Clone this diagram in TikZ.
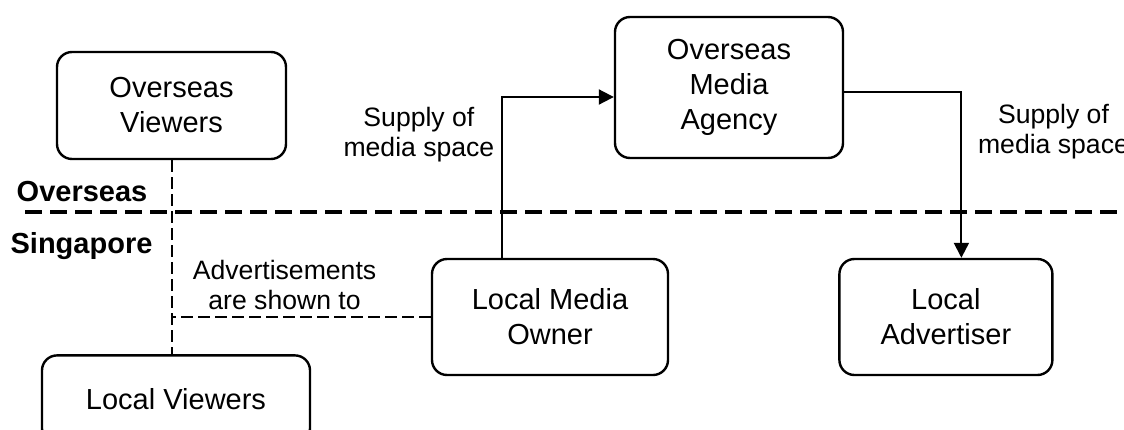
\documentclass[tikz,border=0pt]{standalone}
\usepackage{fontspec}
\setmainfont{Liberation Sans}
\usetikzlibrary{positioning,arrows.meta}

\begin{document}
\begin{tikzpicture}[x=0.5pt, y=-0.5pt, line width=1pt,
    >={Triangle[length=7.5pt,width=7.5pt]},
    entity/.style={draw, line width=1.2pt, rounded corners=7.5pt, align=center,
        font=\fontsize{14.5}{17.5}\selectfont},
    note/.style={align=center, font=\fontsize{13.3}{15}\selectfont},
    region/.style={anchor=base, font=\fontsize{14.5}{17}\selectfont\bfseries},
    dashline/.style={dash pattern=on 6pt off 2.5pt}]%
    \useasboundingbox (0,0) rectangle (1124,429);
    \clip (0,0) rectangle (1124,429);
    \node (1) [entity, minimum width=114.5pt, minimum height=53.5pt] at (171.5,105.5) {Overseas\\Viewers};
    \node (2) [entity, minimum width=114pt, minimum height=70.5pt] at (729,87.5) {Overseas\\Media\\Agency};
    \node (3) [entity, minimum width=118pt, minimum height=58pt] at (550,317) {Local Media\\Owner};
    \node (4) [entity, minimum width=106.5pt, minimum height=58pt, right=84.5pt of 3] {Local\\Advertiser};
    \node (5) [entity, minimum width=134pt, minimum height=44pt, below=97pt of 1, xshift=2.25pt] {Local Viewers};
    \node (6) [region] at (82,201.5) {Overseas};
    \node (7) [region] at (81.5,253.5) {Singapore};
    % border between the two regions
    \draw[line width=2pt, dash pattern=on 8.5pt off 4pt] (25,212) -- (1124,212);
    \draw[->] ([xshift=-24pt]3.north) |- node (8) [note, pos=0.383, left] {Supply of\\media space} ([yshift=-4.75pt]2.west);
    \draw[->] ([yshift=-2.25pt]2.east) -| node (9) [note, pos=0.62, right=4.5pt] {Supply of\\media space} ([xshift=7.75pt]4.north);
    \draw[dashline] (1.south) -- (1.south |- 5.north);
    \draw[dashline] (3.west) -- node (10) [note, pos=0.564, above] {Advertisements\\are shown to} (3.west -| 1.south);
\end{tikzpicture}
\end{document}
